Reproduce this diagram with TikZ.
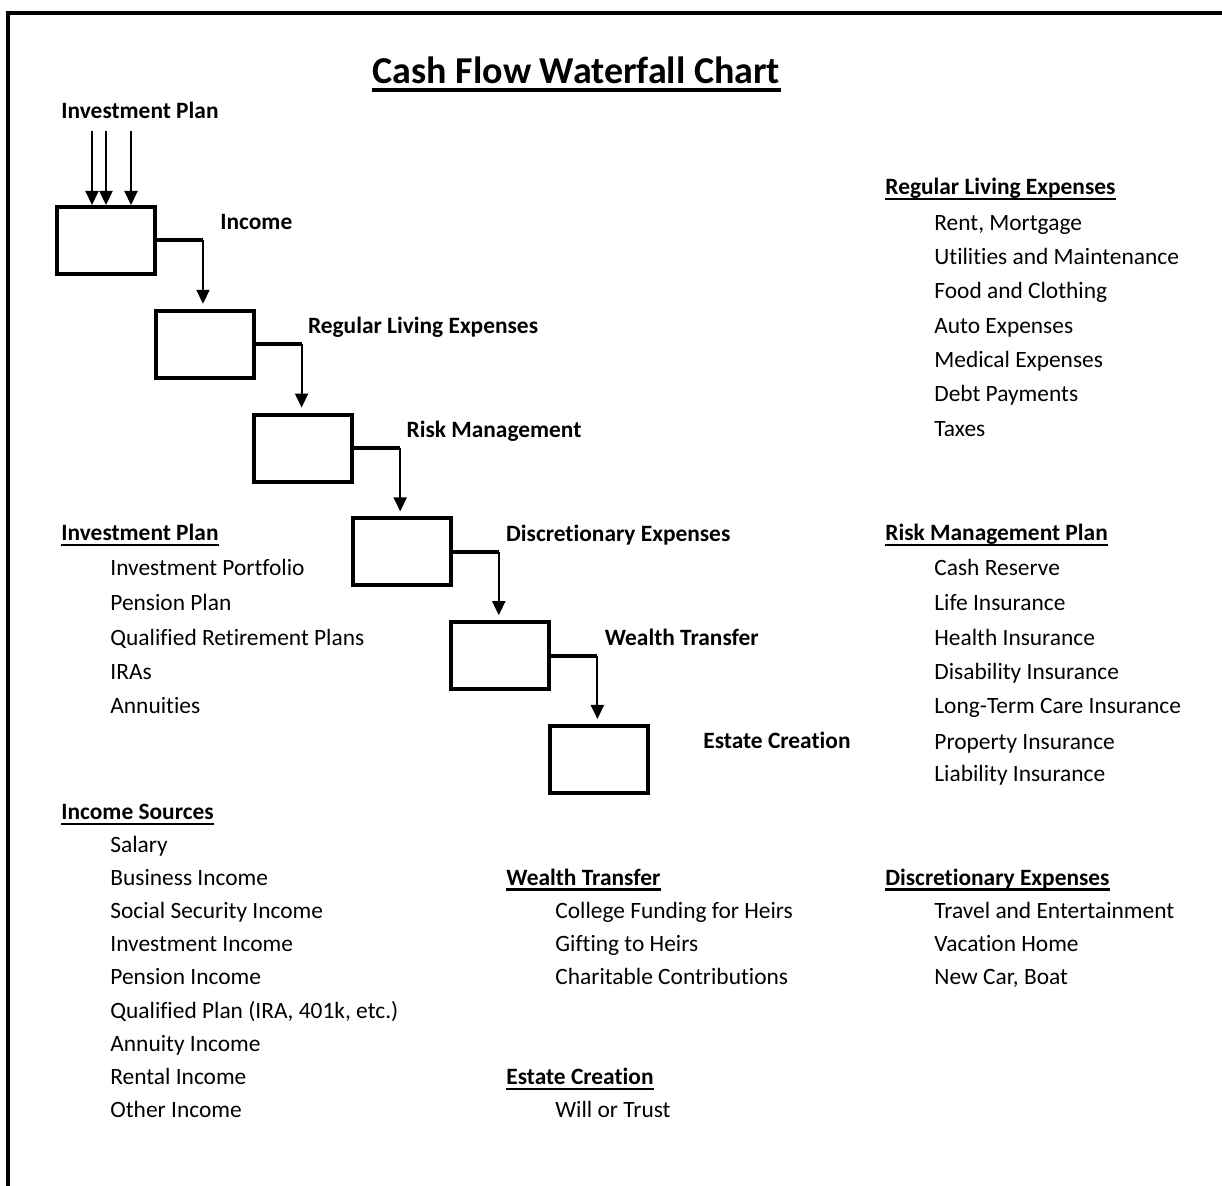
\documentclass[tikz,border=0pt]{standalone}
\usepackage{fontspec}
\setmainfont{Carlito}[Ligatures=NoCommon]
\usetikzlibrary{arrows.meta,calc}
\newcommand\bodysize{\fontsize{11.7}{14}\selectfont}
\newcommand\titlesize{\fontsize{19}{23}\selectfont}

\begin{document}
\begin{tikzpicture}[
  x=0.5pt, y=-0.5pt,
  drop/.tip={Triangle[length=7pt,width=6.5pt]},
  stage/.style={
    draw,
    line width=2pt,
    minimum width=49pt,
    minimum height=33.5pt,
    inner sep=0pt
  },
  txt/.style={anchor=base west, inner sep=0pt, font=\bodysize},
  lbl/.style={txt, font=\bodysize\bfseries},
  head/.style={
    lbl,
    append after command={
      ([yshift=-2pt]\tikzlastnode.base west) edge[line width=1.3pt]
      ([yshift=-2pt]\tikzlastnode.base east)
    }
  },
  feed/.style={-drop, line width=1pt},
  spill/.style={line width=2pt}
]
  \useasboundingbox (0,0) rectangle (1222,1186);
  \draw[line width=2pt] (8,1186) -- (8,13) -- (1222,13);

  \node[anchor=base, inner sep=0pt, font=\titlesize\bfseries,
    append after command={
      ([yshift=-3pt]\tikzlastnode.base west) edge[line width=2pt]
      ([yshift=-3pt]\tikzlastnode.base east)
    }] (title) at (576.5,84) {Cash Flow Waterfall Chart};

  % waterfall
  \foreach \i in {1,...,6}
    \node[stage] (b\i) at ({106+98.6*(\i-1)},{240.5+103.8*(\i-1)}) {};
  \foreach \t/\dx [count=\i] in {Income/63,Regular Living Expenses/52,
      Risk Management/52,Discretionary Expenses/53,Wealth Transfer/53,
      Estate Creation/53}
    \node[lbl] (l\i) at ($(b\i.north east)+(\dx,25)$) {\t};
  \foreach \i/\j in {1/2,2/3,3/4,4/5,5/6}{
    \draw[spill] (b\i.east) -- ++(46,0) coordinate (k\i);
    \draw[feed, shorten >=2.5pt] (k\i) -- (k\i |- b\j.north);
  }

  \node[lbl] (ipTop) at (61,118.5) {Investment Plan};
  \foreach \dx in {-14,0,25}
    \draw[feed] ($(b1.north |- ipTop.base)+(\dx,12.5)$) -- ($(b1.north)+(\dx,0)$);

  % lists
  \node[head] (rleHead) at (885,195) {Regular Living Expenses};
  \foreach \t/\y [count=\i] in {{Rent, Mortgage}/230.5,Utilities and Maintenance/265,
      Food and Clothing/299,Auto Expenses/333.5,Medical Expenses/367.5,
      Debt Payments/402,Taxes/436.5}
    \node[txt] (rle\i) at (934,\y) {\t};

  \node[head] (rmHead) at (885,541) {Risk Management Plan};
  \foreach \t/\y [count=\i] in {Cash Reserve/576,Life Insurance/611,
      Health Insurance/646,Disability Insurance/680,Long-Term Care Insurance/714,
      Property Insurance/750,Liability Insurance/782}
    \node[txt] (rm\i) at (934,\y) {\t};

  \node[head] (ipHead) at (61,541) {Investment Plan};
  \foreach \t/\y [count=\i] in {Investment Portfolio/576,Pension Plan/611,
      Qualified Retirement Plans/646,IRAs/680,Annuities/714}
    \node[txt] (ip\i) at (110,\y) {\t};

  \node[head] (isHead) at (61,820) {Income Sources};
  \foreach \t/\y [count=\i] in {Salary/852.5,Business Income/885.5,
      Social Security Income/918.5,Investment Income/952,Pension Income/985,
      {Qualified Plan (IRA, 401k, etc.)}/1018.5,Annuity Income/1051.5,
      Rental Income/1085,Other Income/1118}
    \node[txt] (is\i) at (110,\y) {\t};

  \node[head] (wtHead) at (506,885.5) {Wealth Transfer};
  \foreach \t/\y [count=\i] in {College Funding for Heirs/918.5,
      Gifting to Heirs/952,Charitable Contributions/985}
    \node[txt] (wt\i) at (555,\y) {\t};

  \node[head] (deHead) at (885,885.5) {Discretionary Expenses};
  \foreach \t/\y [count=\i] in {Travel and Entertainment/918.5,
      Vacation Home/952,{New Car, Boat}/985}
    \node[txt] (de\i) at (934,\y) {\t};

  \node[head] (ecHead) at (506,1085) {Estate Creation};
  \node[txt] (ec1) at (555,1118) {Will or Trust};
\end{tikzpicture}
\end{document}
